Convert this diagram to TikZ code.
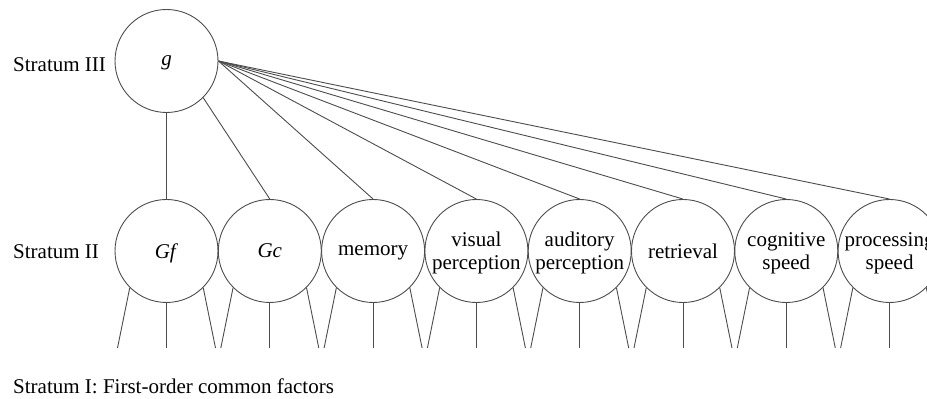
\documentclass[tikz,border=0pt]{standalone}
\usepackage{fontspec}
\setmainfont{Liberation Serif}
\usetikzlibrary{calc}
\begin{document}
\begin{tikzpicture}[x=1pt,y=1pt,
  every node/.style={font=\fontsize{21}{23}\selectfont},
  factor/.style={circle,draw=black!70,line width=0.9pt,minimum size=103pt,inner sep=0pt,align=center,text depth=0pt},
  link/.style={draw=black!70,line width=0.9pt},
  lab/.style={anchor=base west,inner sep=0pt}]
\useasboundingbox (0,0) rectangle (927,399);
\node[factor] (g) at (166.5,338) {\textit{g}};
\node[factor] (f1) at (166.5,148) {\textit{Gf}};
\node[factor] (f2) at (269.8,148) {\textit{Gc}};
\node[factor] (f3) at (373.1,148) {memory};
\node[factor] (f4) at (476.4,148) {visual\\perception};
\node[factor] (f5) at (579.7,148) {auditory\\perception};
\node[factor] (f6) at (683.0,148) {retrieval};
\node[factor] (f7) at (786.3,148) {cognitive\\speed};
\node[factor] (f8) at (889.6,148) {processing\\speed};
\node[lab] (s3) at (13,327) {Stratum III};
\node[lab] (s2) at (13,140) {Stratum II};
\node[lab] (s1) at (13,5) {Stratum I: First-order common factors};
\draw[link] (g.south) -- (f1.north);
\draw[link] (g.-45) -- (f2.north);
\foreach \i in {3,...,8} {\draw[link] (g.east) -- (f\i.north);}
\foreach \i in {1,...,8} {
  \coordinate (l\i) at ($(f\i.center)+(-49,-97)$);
  \coordinate (m\i) at ($(f\i.center)+(0,-97)$);
  \coordinate (r\i) at ($(f\i.center)+(49,-97)$);
  \draw[link] (f\i.-135) -- (l\i);
  \draw[link] (f\i.south) -- (m\i);
  \draw[link] (f\i.-45) -- (r\i);
}
\end{tikzpicture}
\end{document}
